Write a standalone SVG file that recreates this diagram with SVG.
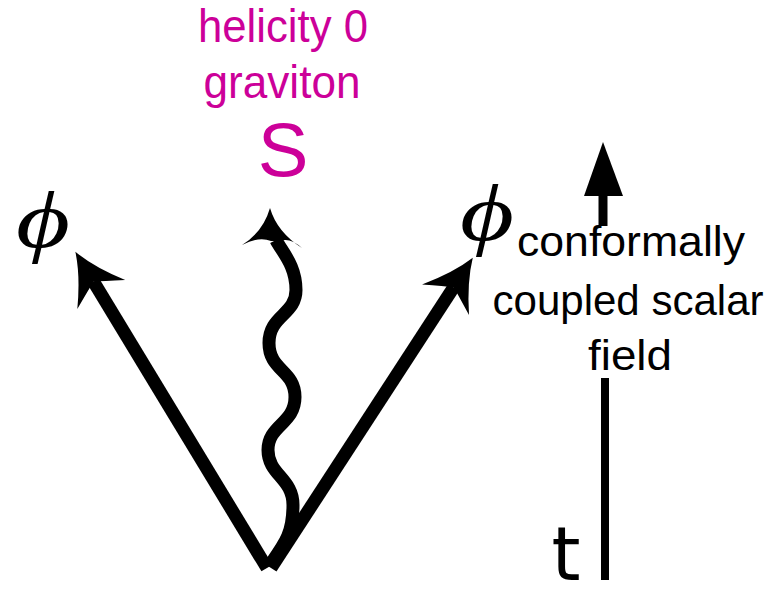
<svg xmlns="http://www.w3.org/2000/svg" width="779" height="591" viewBox="0 0 779 591">
<style>
.mag{fill:#CC0099;font-family:"Liberation Sans",Arial,sans-serif}
.blk{fill:#000;font-family:"Liberation Sans",Arial,sans-serif;font-size:43px;text-anchor:middle}
.phi{fill:#000;font-family:"Liberation Serif","DejaVu Serif",serif;font-style:italic;font-size:80px;text-anchor:middle}
.ln{stroke:#000;fill:none;stroke-width:13;stroke-linecap:butt}
</style>
<defs>
<marker id="head" markerUnits="userSpaceOnUse" markerWidth="60" markerHeight="60" viewBox="0 0 60 60" refX="20" refY="30" orient="auto">
<path d="M55,30 Q32,22 5,2 Q16,22 20,30 Q16,38 5,58 Q32,38 55,30 Z" fill="#000"/>
</marker>
</defs>
<rect width="779" height="591" fill="#fff"/>
<g id="label-top">
<text class="mag" x="283" y="42" font-size="46" text-anchor="middle" textLength="170" lengthAdjust="spacingAndGlyphs">helicity 0</text>
<text class="mag" x="282" y="98" font-size="46" text-anchor="middle" textLength="157" lengthAdjust="spacingAndGlyphs">graviton</text>
<text class="mag" x="283" y="176" font-size="76" text-anchor="middle">S</text>
</g>
<g id="phi-left"><text class="phi" x="43" y="247" textLength="54" lengthAdjust="spacingAndGlyphs">ϕ</text></g>
<g id="phi-right"><text class="phi" x="487" y="240" textLength="54" lengthAdjust="spacingAndGlyphs">ϕ</text></g>
<g id="label-right">
<text class="blk" x="631" y="256" textLength="228" lengthAdjust="spacingAndGlyphs">conformally</text>
<text class="blk" x="628" y="315" textLength="271" lengthAdjust="spacingAndGlyphs">coupled scalar</text>
<text class="blk" x="630" y="370" textLength="84" lengthAdjust="spacingAndGlyphs">field</text>
</g>
<g id="time-axis">
<text x="566" y="580" font-family="'DejaVu Sans',sans-serif" font-size="74" text-anchor="middle">t</text>
<line x1="603" y1="226" x2="603" y2="192" stroke="#000" stroke-width="9"/>
<path d="M603,142 L623,196 L584,196 Z" fill="#000"/>
<line x1="605" y1="378" x2="605" y2="580" stroke="#000" stroke-width="8"/>
</g>
<g id="connectors">
<line class="ln" x1="267" y1="568" x2="93.5" y2="281.7" marker-end="url(#head)"/>
<line class="ln" x1="271" y1="568" x2="453.7" y2="287.2" marker-end="url(#head)"/>
<path class="ln" d="M276,240 C282,252 296,265 296,290 S269,315 269,343 S295,370 295,397 S268,425 268,450 S293,478 293,505 S286,542 272,562"/>
<path d="M270,208 Q277,232 302,248 Q290,237 280,241 L271,241 Q259,236 242,245 Q263,232 270,208 Z" fill="#000"/>
</g>
</svg>
